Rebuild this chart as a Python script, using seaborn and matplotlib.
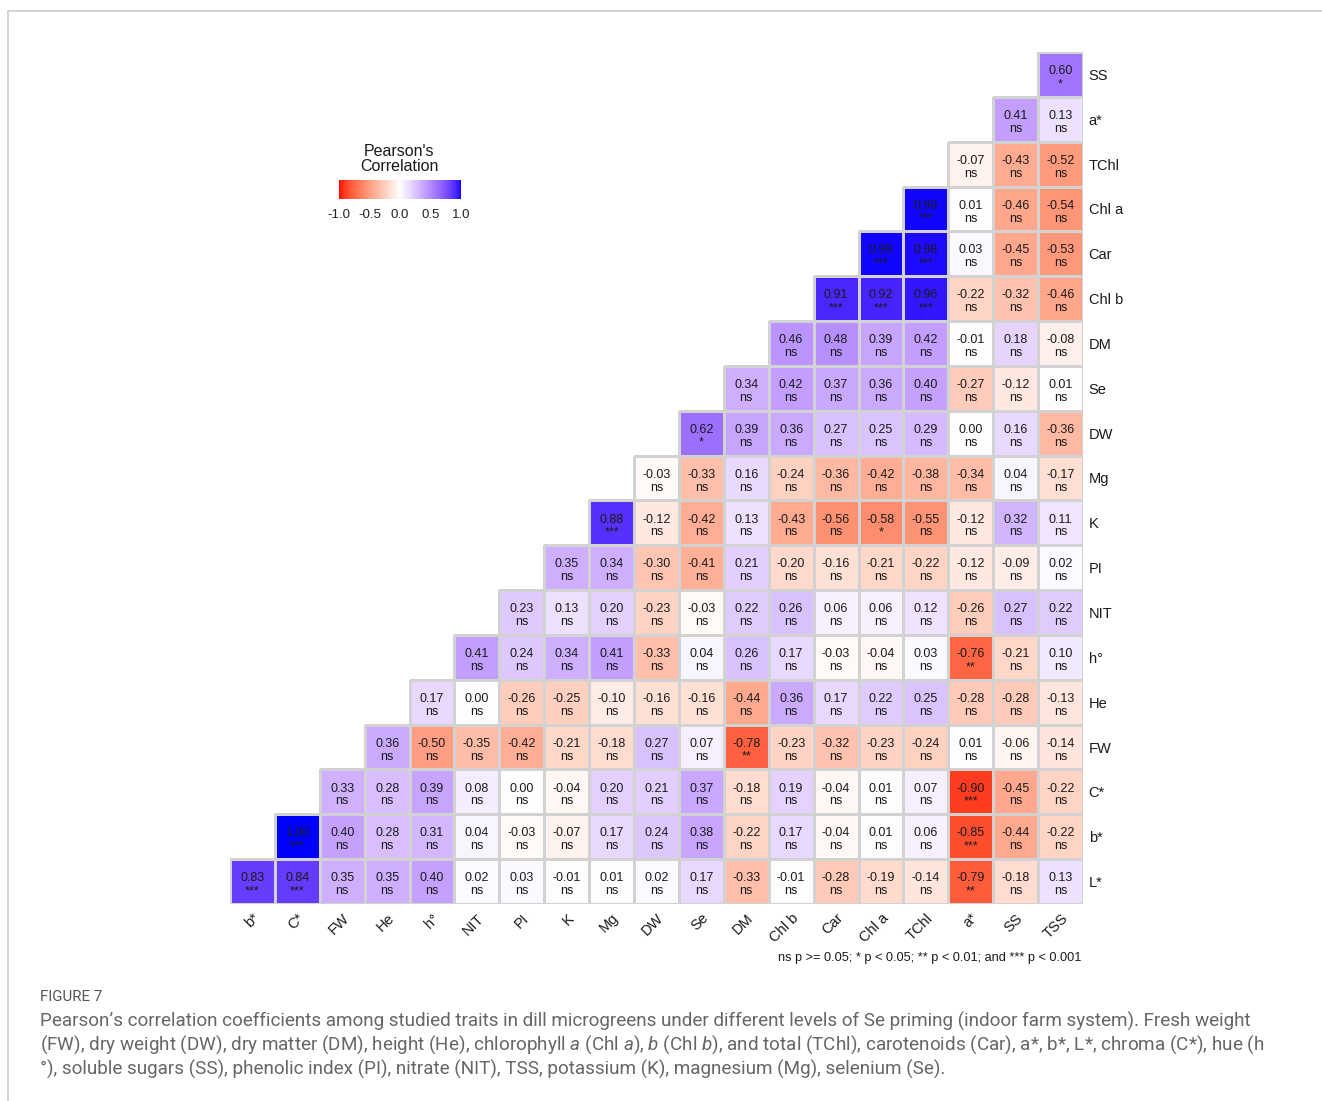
import numpy as np
import pandas as pd
import matplotlib
matplotlib.use("Agg")
import matplotlib.pyplot as plt
from matplotlib.colors import ListedColormap, to_rgba
from matplotlib.lines import Line2D
import seaborn as sns

# ---- traits (x: columns left->right, y: rows top->bottom) ----
col_labels = ["b*", "C*", "FW", "He", "h°", "NIT", "PI", "K", "Mg", "DW", "Se",
              "DM", "Chl b", "Car", "Chl a", "TChl", "a*", "SS", "TSS"]
row_labels = ["SS", "a*", "TChl", "Chl a", "Car", "Chl b", "DM", "Se", "DW", "Mg",
              "K", "PI", "NIT", "h°", "He", "FW", "C*", "b*", "L*"]

# ---- correlation coefficients per row (right-aligned, ending at TSS) ----
r_SS = [0.60]
r_a = [0.41, 0.13]
r_TChl = [-0.07, -0.43, -0.52]
r_Chla = [0.99, 0.01, -0.46, -0.54]
r_Car = [0.99, 0.98, 0.03, -0.45, -0.53]
r_Chlb = [0.91, 0.92, 0.96, -0.22, -0.32, -0.46]
r_DM = [0.46, 0.48, 0.39, 0.42, -0.01, 0.18, -0.08]
r_Se = [0.34, 0.42, 0.37, 0.36, 0.40, -0.27, -0.12, 0.01]
r_DW = [0.62, 0.39, 0.36, 0.27, 0.25, 0.29, 0.00, 0.16, -0.36]
r_Mg = [-0.03, -0.33, 0.16, -0.24, -0.36, -0.42, -0.38, -0.34, 0.04, -0.17]
r_K = [0.88, -0.12, -0.42, 0.13, -0.43, -0.56, -0.58, -0.55, -0.12, 0.32, 0.11]
r_PI = [0.35, 0.34, -0.30, -0.41, 0.21, -0.20, -0.16, -0.21, -0.22, -0.12, -0.09, 0.02]
r_NIT = [0.23, 0.13, 0.20, -0.23, -0.03, 0.22, 0.26, 0.06, 0.06, 0.12, -0.26, 0.27, 0.22]
r_h = [0.41, 0.24, 0.34, 0.41, -0.33, 0.04, 0.26, 0.17, -0.03, -0.04, 0.03, -0.76,
       -0.21, 0.10]
r_He = [0.17, 0.00, -0.26, -0.25, -0.10, -0.16, -0.16, -0.44, 0.36, 0.17, 0.22, 0.25,
        -0.28, -0.28, -0.13]
r_FW = [0.36, -0.50, -0.35, -0.42, -0.21, -0.18, 0.27, 0.07, -0.78, -0.23, -0.32,
        -0.23, -0.24, 0.01, -0.06, -0.14]
r_C = [0.33, 0.28, 0.39, 0.08, 0.00, -0.04, 0.20, 0.21, 0.37, -0.18, 0.19, -0.04,
       0.01, 0.07, -0.90, -0.45, -0.22]
r_b = [1.00, 0.40, 0.28, 0.31, 0.04, -0.03, -0.07, 0.17, 0.24, 0.38, -0.22, 0.17,
       -0.04, 0.01, 0.06, -0.85, -0.44, -0.22]
r_L = [0.83, 0.84, 0.35, 0.35, 0.40, 0.02, 0.03, -0.01, 0.01, 0.02, 0.17, -0.33,
       -0.01, -0.28, -0.19, -0.14, -0.79, -0.18, 0.13]

# ---- significance marks (row, column, mark); all other cells are "ns" ----
sig_marks = [
    ("SS", "TSS", "*"), ("Chl a", "TChl", "***"), ("Car", "Chl a", "***"),
    ("Car", "TChl", "***"), ("Chl b", "Car", "***"), ("Chl b", "Chl a", "***"),
    ("Chl b", "TChl", "***"), ("DW", "Se", "*"), ("K", "Mg", "***"),
    ("K", "Chl a", "*"), ("h°", "a*", "**"), ("FW", "DM", "**"),
    ("C*", "a*", "***"), ("b*", "C*", "***"), ("b*", "a*", "***"),
    ("L*", "b*", "***"), ("L*", "C*", "***"), ("L*", "a*", "**"),
]

rows = [r_SS, r_a, r_TChl, r_Chla, r_Car, r_Chlb, r_DM, r_Se, r_DW, r_Mg, r_K,
        r_PI, r_NIT, r_h, r_He, r_FW, r_C, r_b, r_L]

n = len(col_labels)
mat = np.full((len(row_labels), n), np.nan)
for i, vals in enumerate(rows):
    mat[i, n - len(vals):] = vals
corr = pd.DataFrame(mat, index=row_labels, columns=col_labels)
empty = np.isnan(mat)

sig = pd.DataFrame("ns", index=row_labels, columns=col_labels)
for r, c, m in sig_marks:
    sig.loc[r, c] = m
labels = np.where(empty, "",
                  np.vectorize(lambda v: f"{v:.2f}")(np.nan_to_num(mat)) + "\n" + sig.values)


# ---- red-white-blue gradient interpolated in CIELAB ----
def _srgb_to_lab(rgb):
    rgb = np.asarray(rgb, float)
    lin = np.where(rgb <= 0.04045, rgb / 12.92, ((rgb + 0.055) / 1.055) ** 2.4)
    M = np.array([[0.4124564, 0.3575761, 0.1804375],
                  [0.2126729, 0.7151522, 0.0721750],
                  [0.0193339, 0.1191920, 0.9503041]])
    xyz = M @ lin / np.array([0.95047, 1.0, 1.08883])
    f = np.where(xyz > 216 / 24389, np.cbrt(xyz), (24389 / 27 * xyz + 16) / 116)
    return np.array([116 * f[1] - 16, 500 * (f[0] - f[1]), 200 * (f[1] - f[2])])


def _lab_to_srgb(lab):
    L, a, b = lab
    fy = (L + 16) / 116
    fx = fy + a / 500
    fz = fy - b / 200
    f = np.array([fx, fy, fz])
    xyz = np.where(f ** 3 > 216 / 24389, f ** 3, (116 * f - 16) / (24389 / 27))
    xyz = xyz * np.array([0.95047, 1.0, 1.08883])
    Minv = np.array([[3.2404542, -1.5371385, -0.4985314],
                     [-0.9692660, 1.8760108, 0.0415560],
                     [0.0556434, -0.2040259, 1.0572252]])
    lin = np.clip(Minv @ xyz, 0, 1)
    rgb = np.where(lin <= 0.0031308, 12.92 * lin, 1.055 * lin ** (1 / 2.4) - 0.055)
    return np.clip(rgb, 0, 1)


lab_low = _srgb_to_lab([1, 0, 0])
lab_mid = _srgb_to_lab([1, 1, 1])
lab_high = _srgb_to_lab([0, 0, 1])
ramp = []
for v in np.linspace(-1, 1, 256):
    if v < 0:
        lab = lab_mid + (-v) * (lab_low - lab_mid)
    else:
        lab = lab_mid + v * (lab_high - lab_mid)
    ramp.append(_lab_to_srgb(lab))
cmap = ListedColormap(ramp)

# ---- figure ----
sns.set_style("white")
plt.rcParams["font.family"] = ["Liberation Sans", "DejaVu Sans"]
plt.rcParams["mathtext.fontset"] = "custom"
plt.rcParams["mathtext.rm"] = "Roboto"
plt.rcParams["mathtext.it"] = "Roboto:italic"

W, H = 1322, 1101
fig = plt.figure(figsize=(W / 100, H / 100), dpi=100)
ax = fig.add_axes([230 / W, 1 - 904 / H, 853 / W, 852 / H])
cax = fig.add_axes([339 / W, 1 - 199 / H, 122 / W, 19 / H])

grid_color = "#d2d2d2"
sns.heatmap(corr, ax=ax, cmap=cmap, vmin=-1, vmax=1, mask=empty,
            annot=labels, fmt="",
            annot_kws={"fontsize": 9, "color": "#1a1a1a", "linespacing": 1.1},
            linewidths=1.0, linecolor=grid_color,
            cbar_ax=cax, cbar_kws={"orientation": "horizontal",
                                   "ticks": [-1, -0.5, 0, 0.5, 1]})

# outline only the filled cells of the triangle
mesh = ax.collections[0]
edge_rgba = np.array([(0, 0, 0, 0) if e else to_rgba(grid_color)
                      for e in empty.ravel()])
mesh.set_edgecolors(edge_rgba)

# nudge the two-line cell labels slightly downward within each cell
for t in ax.texts:
    x, y = t.get_position()
    t.set_position((x, y + 0.07))

for sp in ax.spines.values():
    sp.set_visible(False)
ax.yaxis.tick_right()
ax.set_yticklabels(row_labels, rotation=0, fontsize=10.5, color="#1a1a1a")
ax.set_xticklabels(col_labels, rotation=45, ha="right", va="top",
                   rotation_mode="anchor", fontsize=10.5, color="#1a1a1a")
ax.tick_params(axis="y", length=0, pad=4)
ax.tick_params(axis="x", length=0, pad=5)
ax.set_xlabel("")
ax.set_ylabel("")

# colour bar legend
cax.set_xticklabels(["-1.0", "-0.5", "0.0", "0.5", "1.0"])
cax.tick_params(axis="x", direction="in", length=4, width=1, color="white",
                top=True, bottom=True, labelsize=9.5, labelcolor="#222222", pad=7)
for sp in cax.spines.values():
    sp.set_visible(False)
fig.text(399 / W, 1 - 174 / H, "Pearson's\nCorrelation", ha="center", va="bottom",
         fontsize=11.5, color="#1a1a1a", linespacing=1.0)

# significance key
fig.text(1081 / W, 1 - 958 / H,
         "ns p >= 0.05; * p < 0.05; ** p < 0.01; and *** p < 0.001",
         ha="right", va="center", fontsize=9.2, color="#1a1a1a")

# caption
cap_font = ["Roboto", "DejaVu Sans"]
fig.text(40 / W, 1 - 997 / H, "FIGURE 7", ha="left", va="center",
         fontsize=10.8, color="#555555", family=cap_font)
cap_lines = [
    "Pearson’s correlation coefficients among studied traits in dill microgreens under "
    "different levels of Se priming (indoor farm system). Fresh weight",
    "(FW), dry weight (DW), dry matter (DM), height (He), chlorophyll $a$ (Chl $a$), "
    "$b$ (Chl $b$), and total (TChl), carotenoids (Car), a*, b*, L*, chroma (C*), hue (h",
    "°), soluble sugars (SS), phenolic index (PI), nitrate (NIT), TSS, potassium (K), "
    "magnesium (Mg), selenium (Se).",
]
for k, line in enumerate(cap_lines):
    fig.text(40 / W, 1 - (1021 + 24 * k) / H, line, ha="left", va="center",
             fontsize=13.6, color="#666666", family=cap_font)

# panel frame (top and left rules)
frame_kw = dict(color="#cccccc", linewidth=1.2, transform=fig.transFigure)
fig.add_artist(Line2D([8 / W, 1.0], [1 - 11 / H, 1 - 11 / H], **frame_kw))
fig.add_artist(Line2D([8 / W, 8 / W], [1 - 11 / H, 0.0], **frame_kw))

fig.savefig("out.png", dpi=100)
